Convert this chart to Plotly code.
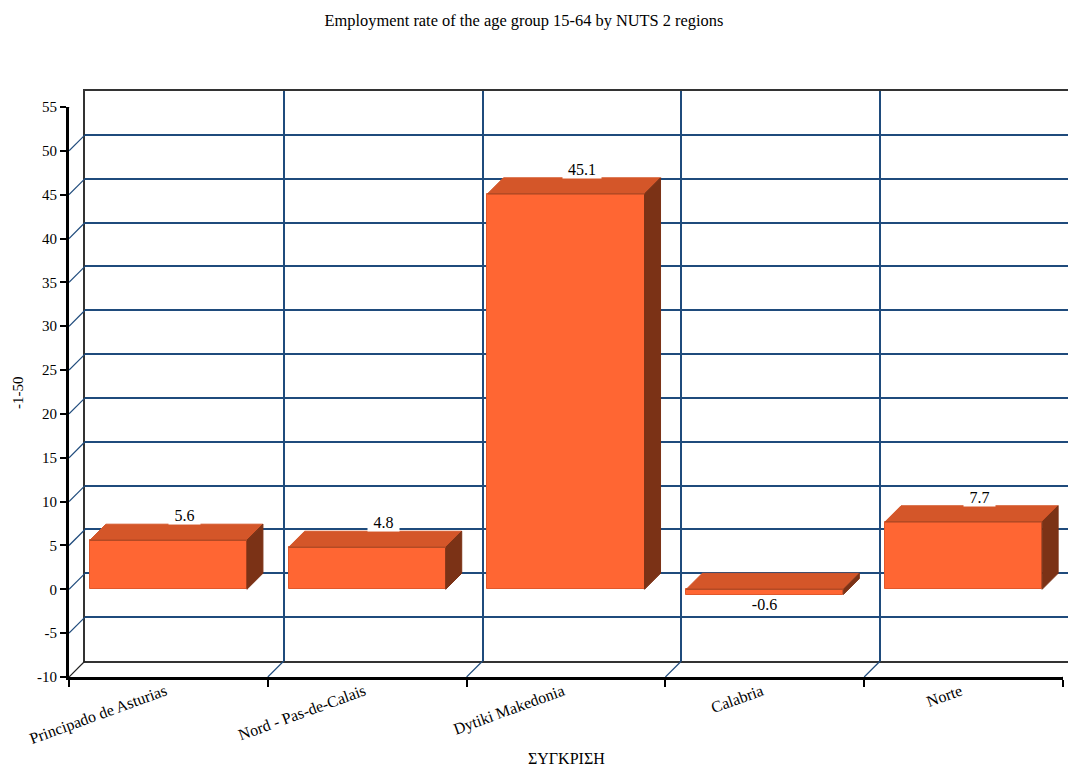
import plotly.graph_objects as go

categories = ["Principado de Asturias", "Nord - Pas-de-Calais", "Dytiki Makedonia", "Calabria", "Norte"]
values = [5.6, 4.8, 45.1, -0.6, 7.7]
value_labels = ["5.6", "4.8", "45.1", "-0.6", "7.7"]
y_ticks = list(range(-10, 60, 5))

W = 1068
H = 769
FONT = "Liberation Serif"
GRID = "#1f4b7c"
FRONT = "#ff6633"
TOP = "#d45629"
SIDE = "#7b3216"

# front plane in pixels, the back wall sits 16px right and up of it
left, right, bottom, top = 69, 1063, 677, 107
depth = 16
cat_px = (right - left) / len(categories)
val_px = (bottom - top) / 65
dx = depth / cat_px
dy = depth / val_px
bar_w = 0.79

pos = list(range(len(categories)))
edges = [p - 0.5 for p in pos] + [pos[-1] + 0.5]

fig = go.Figure()

# back wall axes only carry the grid
fig.add_trace(go.Scatter(x=pos, y=values, mode="none", xaxis="x", yaxis="y",
                         showlegend=False, hoverinfo="skip"))

# front faces
fig.add_trace(go.Bar(x=pos, y=values, width=bar_w, xaxis="x2", yaxis="y2", showlegend=False,
                     marker=dict(color=FRONT, line=dict(color="#e0582b", width=1)),
                     cliponaxis=False))


def face(xs, ys, color):
    fig.add_trace(go.Scatter(x=xs, y=ys, mode="lines", fill="toself", fillcolor=color,
                             line=dict(color=color, width=1), xaxis="x2", yaxis="y2",
                             showlegend=False, cliponaxis=False, hoverinfo="skip"))


for p, v in zip(pos, values):
    x0 = p - bar_w / 2
    x1 = p + bar_w / 2
    hi = max(v, 0)
    lo = min(v, 0)
    face([x0, x1, x1 + dx, x0 + dx, x0], [hi, hi, hi + dy, hi + dy, hi], TOP)
    face([x1, x1 + dx, x1 + dx, x1, x1], [hi, hi + dy, lo + dy, lo, hi], SIDE)
    # darker seam between front and top
    fig.add_trace(go.Scatter(x=[x0, x1], y=[hi, hi], mode="lines", line=dict(color="#b44a24", width=1.5),
                             xaxis="x2", yaxis="y2", showlegend=False, cliponaxis=False, hoverinfo="skip"))

# connectors from the front axes to the back wall
diag_x, diag_y = [], []
for t in y_ticks[1:-1]:
    diag_x += [edges[0], edges[0] + dx, None]
    diag_y += [t, t + dy, None]
for e in edges[1:-1]:
    diag_x += [e, e + dx, None]
    diag_y += [y_ticks[0], y_ticks[0] + dy, None]
fig.add_trace(go.Scatter(x=diag_x, y=diag_y, mode="lines", line=dict(color=GRID, width=1.2),
                         xaxis="x2", yaxis="y2", showlegend=False, cliponaxis=False, hoverinfo="skip"))
fig.add_trace(go.Scatter(x=[edges[0], edges[0] + dx, None, edges[0], edges[0] + dx, None, edges[-1], edges[-1] + dx],
                         y=[y_ticks[0], y_ticks[0] + dy, None, y_ticks[-1], y_ticks[-1] + dy, None, y_ticks[0], y_ticks[0] + dy],
                         mode="lines", line=dict(color="#222222", width=1.2),
                         xaxis="x2", yaxis="y2", showlegend=False, cliponaxis=False, hoverinfo="skip"))

# value labels sit over the back edge of the top face
annotations = []
for p, v, lab in zip(pos, values, value_labels):
    if v >= 0:
        annotations.append(dict(x=p + dx, y=v + dy, xref="x2", yref="y2", text=lab, showarrow=False,
                                yanchor="bottom", xanchor="center", bgcolor="white", borderpad=0, yshift=-1,
                                width=7 * len(lab) + 10, font=dict(family=FONT, size=16, color="black")))
    else:
        annotations.append(dict(x=p, y=v, xref="x2", yref="y2", text=lab, showarrow=False,
                                yanchor="top", xanchor="center", bgcolor="white", borderpad=0, yshift=0,
                                width=7 * len(lab) + 5, font=dict(family=FONT, size=16, color="black")))

annotations.append(dict(x=566 / W, y=1 - 758 / H, xref="paper", yref="paper", text="ΣΥΓΚΡΙΣΗ", showarrow=False,
                        xanchor="center", yanchor="middle", font=dict(family=FONT, size=16, color="black")))
annotations.append(dict(x=18 / W, y=1 - 393 / H, xref="paper", yref="paper", text="-1-50", showarrow=False,
                        xanchor="center", yanchor="middle", textangle=-90,
                        font=dict(family=FONT, size=15, color="black")))

fig.update_layout(
    width=W,
    height=H,
    margin=dict(l=0, r=0, t=0, b=0, autoexpand=False),
    paper_bgcolor="white",
    plot_bgcolor="rgba(0,0,0,0)",
    showlegend=False,
    bargap=0,
    title=dict(text="Employment rate of the age group 15-64 by NUTS 2 regions",
               x=524 / W, xanchor="center", y=1 - 20 / H, yanchor="middle",
               font=dict(family=FONT, size=16.4, color="black")),
    font=dict(family=FONT, size=15, color="black"),
    annotations=annotations,
    # back wall
    xaxis=dict(domain=[(left + depth) / W, 1], range=[-0.5, -0.5 + (W - left - depth) / cat_px],
               tickvals=[e for e in edges[1:-1]], showticklabels=False, ticks="",
               showgrid=True, gridcolor=GRID, gridwidth=1.5, zeroline=False,
               showline=True, linecolor="#333333", linewidth=1.5, mirror=True, anchor="y"),
    yaxis=dict(domain=[(H - bottom + depth) / H, (H - top + depth) / H], range=[-10, 55],
               tickvals=y_ticks, showticklabels=False, ticks="",
               showgrid=True, gridcolor=GRID, gridwidth=1.5, zeroline=False,
               showline=True, linecolor="#333333", linewidth=1.5, anchor="x"),
    # front plane
    xaxis2=dict(domain=[left / W, right / W], range=[-0.5, len(categories) - 0.5], anchor="y2",
                tickvals=pos, ticktext=categories, tickangle=-20, ticks="", showgrid=False, zeroline=False,
                showline=True, linecolor="black", linewidth=3, ticklabelstandoff=-4, ticklabelshift=-3,
                minor=dict(tickmode="array", tickvals=edges, ticks="outside", ticklen=7, tickwidth=2,
                           tickcolor="black", showgrid=False),
                tickfont=dict(family=FONT, size=16, color="black")),
    yaxis2=dict(domain=[(H - bottom) / H, (H - top) / H], range=[-10, 55], anchor="x2",
                tickvals=y_ticks, ticktext=[str(t) for t in y_ticks], ticks="outside", ticklen=6, tickwidth=2,
                tickcolor="black", showgrid=False, zeroline=False, showline=True, linecolor="black", linewidth=3,
                tickfont=dict(family=FONT, size=15, color="black")),
)

fig.write_html("out.html", config={"displayModeBar": False},
               post_script="document.body.style.margin='0';document.body.style.overflow='hidden';")
